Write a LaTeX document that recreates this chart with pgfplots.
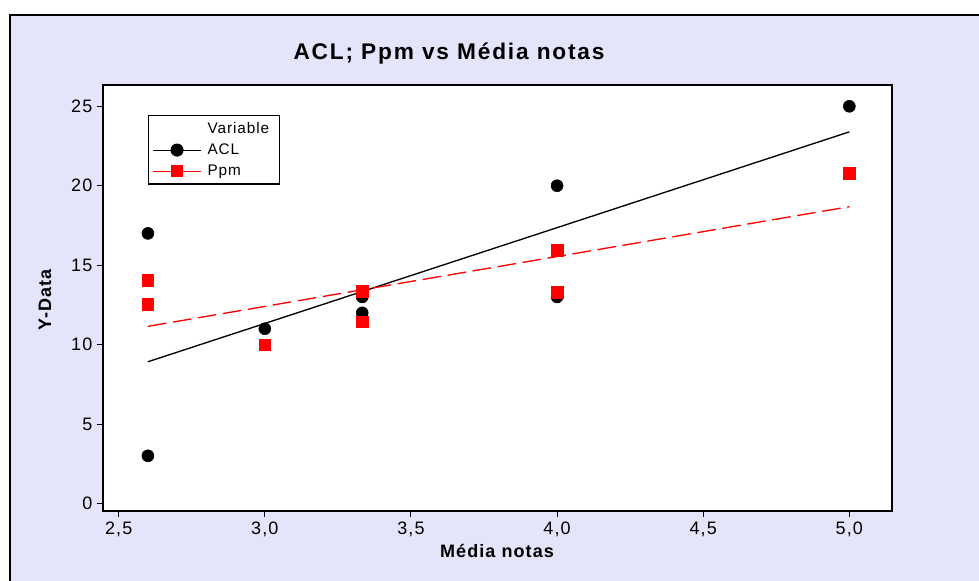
\documentclass[border=0pt]{standalone}
\usepackage{pgfplots}
\pgfplotsset{compat=1.18}
\usepackage{fontspec}
\setmainfont{Liberation Sans}[LetterSpace=6]
\newfontfamily\titlefont{Liberation Sans}[LetterSpace=8]
\definecolor{bg}{RGB}{228,228,250}
\begin{document}
\begin{tikzpicture}[x=0.75pt,y=0.75pt]
\useasboundingbox (0,0) rectangle (979,581);
\fill[bg] (10,0) rectangle (979,566);
\draw[line width=0.9pt] (10,0) -- (10,566) -- (979,566);
\begin{axis}[
  at={(77.25pt,52.5pt)}, anchor=south west,
  scale only axis, width=591.75pt, height=319.5pt,
  xmin=2.4463, xmax=5.146, ymin=-0.472, ymax=26.34,
  xtick={2.5,3,3.5,4,4.5,5}, ytick={0,5,10,15,20,25},
  axis background/.style={fill=white},
  axis line style={line width=1pt},
  tick style={black, line width=0.8pt},
  tick align=outside, major tick length=4.5pt,
  xtick pos=bottom, ytick pos=left,
  /pgf/number format/assume math mode=true,
  ticklabel style={font=\fontsize{13.5}{16}\selectfont},
  xticklabel style={/pgf/number format/.cd, use comma, fixed, fixed zerofill, precision=1},
  yticklabel style={/pgf/number format/.cd, fixed, precision=0},
  legend cell align=left,
  legend style={at={(0.057,0.9296)}, anchor=north west, draw=black, line width=0.8pt,
    font=\fontsize{11.5}{13}\selectfont, row sep=2.3pt, inner xsep=3pt, inner ysep=3pt,
    nodes={inner xsep=4.5pt}},
  legend image code/.code={\draw[mark repeat=2,mark phase=2,#1] plot coordinates {(0pt,0pt) (18pt,0pt) (36pt,0pt)};},
]
\addlegendimage{empty legend}\addlegendentry{Variable}
\addlegendimage{black, solid, line width=0.8pt, mark=*, mark size=4.5pt}\addlegendentry{ACL}
\addlegendimage{red, solid, line width=0.8pt, mark=square*, mark size=4.3pt}\addlegendentry{Ppm}
% regression lines
\addplot[black, line width=1pt, forget plot] coordinates {(2.6,8.92) (5.0,23.39)};
\addplot[red, line width=1pt, dash pattern=on 14pt off 5pt, forget plot] coordinates {(2.6,11.15) (5.0,18.68)};
% data
\addplot[black, only marks, mark=*, mark size=4.5pt, forget plot] coordinates {
  (2.6,17) (2.6,3) (3.0,11) (3.3333,13) (3.3333,12) (4.0,20) (4.0,13) (5.0,25)};
\addplot[red, only marks, mark=square*, mark size=4.3pt, forget plot] coordinates {
  (2.6,14.05) (2.6,12.55) (3.0,10.0) (3.3333,13.35) (3.3333,11.45) (4.0,15.95) (4.0,13.3) (5.0,20.77)};
\end{axis}
\node[font=\titlefont\bfseries\fontsize{17}{20}\selectfont] at (449,527) {ACL; Ppm vs Média notas};
\node[font=\bfseries\fontsize{13.5}{16}\selectfont] at (497,30) {Média notas};
\node[font=\bfseries\fontsize{13.5}{16}\selectfont, rotate=90] at (45,281) {Y-Data};
\end{tikzpicture}
\end{document}
